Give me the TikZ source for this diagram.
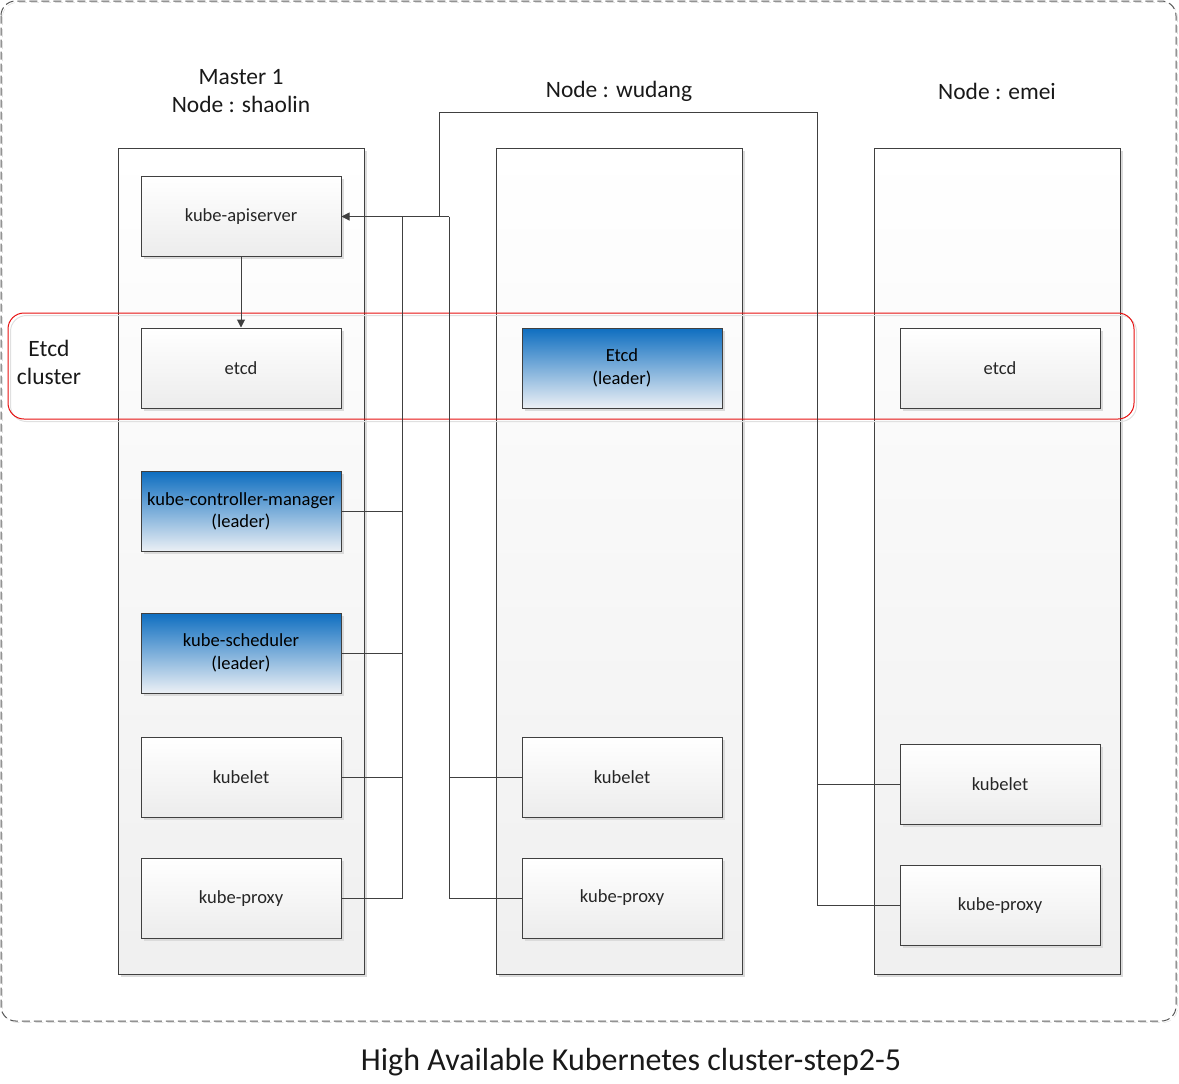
\documentclass[tikz,border=0pt]{standalone}
\usepackage{fontspec}
\setmainfont{Carlito}
\usetikzlibrary{arrows.meta,shadows,positioning}
\definecolor{linegray}{RGB}{64,64,64}
\definecolor{boxgray}{RGB}{236,236,236}
\definecolor{leadblue}{RGB}{14,110,192}
\definecolor{leadpale}{RGB}{236,240,245}
\definecolor{etcdred}{RGB}{230,16,16}
\tikzset{
	shade/.style={drop shadow={shadow xshift=2pt,shadow yshift=-2pt,fill=black!14,opacity=1}},
	colbox/.style={draw=linegray,line width=0.75pt,minimum width=184.5pt,minimum height=619.5pt,
		top color=white,bottom color=black!6,shade},
	part/.style={draw=linegray,line width=0.75pt,minimum width=150pt,minimum height=60pt,inner sep=0pt,
		top color=white,bottom color=boxgray,shade,align=center,text=black!85,
		font=\fontsize{13.9}{17}\selectfont},
	leader/.style={part,top color=leadblue,bottom color=leadpale,text=black},
	title/.style={align=center,text=black!90,font=\fontsize{17.6}{21}\selectfont},
	link/.style={draw=linegray,line width=0.75pt},
	arr/.style={link,-{Triangle[length=6pt,width=6pt]}}
}
\begin{document}
\begin{tikzpicture}[x=0.75pt,y=-0.75pt]
	\useasboundingbox (0,0) rectangle (1179,1083);
	\draw[black!12,dash pattern=on 6pt off 3pt,rounded corners=11pt] (2.5,2.5) rectangle (1177.5,1022.5);
	\draw[black!65,line width=0.75pt,dash pattern=on 6pt off 3pt,rounded corners=11pt] (1,1) rectangle (1176,1021);
	
	% the three machines
	\foreach \n/\x in {1/241,2/619,3/997}
	\node[colbox] (col\n) at (\x,561) {};
	\node[title] (t1) at (241,91) {Master 1\\Node : shaolin};
	\node[title] (t2) at (619,91) {Node : wudang};
	\node[title] (t3) at (997,91) {Node : emei};
	
	% shaolin
	\node[part] (api1) at (241,216.5) {kube-apiserver};
	\node[part] (etcd1) at (241,368) {etcd};
	\node[leader] (cm1) at (241,511.5) {kube-controller-manager\\(leader)};
	\node[leader] (sch1) at (241,653) {kube-scheduler\\(leader)};
	\node[part] (let1) at (241,777.5) {kubelet};
	\node[part] (proxy1) at (241,898.5) {kube-proxy};
	
	% wudang
	\node[leader] (etcd2) at (622,368) {Etcd\\(leader)};
	\node[part] (let2) at (622,777) {kubelet};
	\node[part] (proxy2) at (622,898) {kube-proxy};
	
	% emei
	\node[part] (etcd3) at (1000,368) {etcd};
	\node[part] (let3) at (1000,784.5) {kubelet};
	\node[part] (proxy3) at (1000,905.5) {kube-proxy};
	
	% etcd cluster
	\draw[black!12,line width=0.75pt,rounded corners=12pt] (10.5,315.5) rectangle (1136.5,421.5);
	\draw[etcdred,line width=0.75pt,rounded corners=12pt] (8,313) rectangle (1134,419);
	\node[title] (cluster) at (49,362) {Etcd\\cluster};
	
	% connectors
	\coordinate (busA) at (402,216.5);
	\coordinate (busB) at (449,216.5);
	\coordinate (busC) at (439,216.5);
	\coordinate (busCtop) at (817,112);
	\draw[arr] (api1) -- (etcd1);
	\draw[arr] (busB) -- (api1.east);
	\draw[link] (busA) -- (busA |- proxy1.east);
	\foreach \b in {cm1,sch1,let1,proxy1}
	\draw[link] (\b.east) -- (\b.east -| busA);
	\draw[link] (busB) -- (busB |- proxy2.west);
	\foreach \b in {let2,proxy2}
	\draw[link] (\b.west) -- (\b.west -| busB);
	\draw[link] (busC) -- (busC |- busCtop) -- (busCtop) -- (busCtop |- proxy3.west) -- (proxy3.west);
	\draw[link] (let3.west) -- (let3.west -| busCtop);
	
	\node[font=\fontsize{24}{28}\selectfont,text=black!90] (caption) at (631,1062) {High Available Kubernetes cluster-step2-5};
\end{tikzpicture}
\end{document}
